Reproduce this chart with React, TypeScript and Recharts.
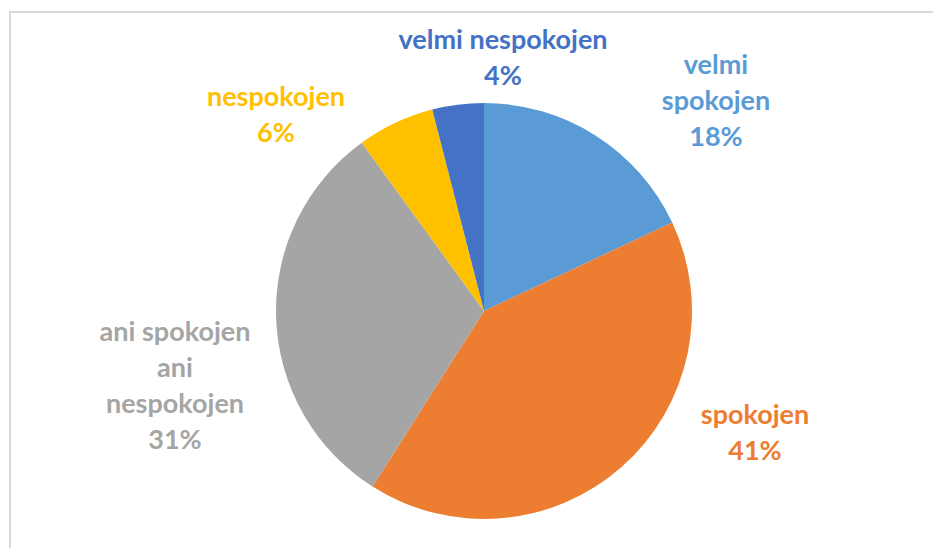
import { PieChart, Pie, Cell } from 'recharts';

// =============================================================================
// Data
// =============================================================================

const categories = ['velmi spokojen', 'spokojen', 'ani spokojen ani nespokojen', 'nespokojen', 'velmi nespokojen'];
const shares = [18, 41, 31, 6, 4];

// how each category name is wrapped in its data label
const labelLines = [
  ['velmi', 'spokojen'],
  ['spokojen'],
  ['ani spokojen', 'ani', 'nespokojen'],
  ['nespokojen'],
  ['velmi nespokojen'],
];

const COLORS = ['#5B9BD5', '#ED7D31', '#A5A5A5', '#FFC000', '#4472C4'];

// label block centres relative to the pie centre (Excel "best fit" placement)
const LABEL_OFFSETS: [number, number][] = [
  [232, -209],
  [271, 123],
  [-309, 76],
  [-208, -195],
  [19, -252],
];

const LINE_HEIGHT = 36;
const FONT = 'Lato, "Open Sans", sans-serif';

const chartData = categories.map((name, i) => ({ name, value: shares[i] }));

// =============================================================================
// Label
// =============================================================================

function renderLabel(props: any) {
  const { cx, cy, index, percent } = props;
  const lines = [...labelLines[index], `${Math.round(percent * 100)}%`];
  const [dx, dy] = LABEL_OFFSETS[index];
  const x = cx + dx;
  const top = cy + dy - ((lines.length - 1) * LINE_HEIGHT) / 2;
  return (
    <text
      x={x}
      y={top}
      fill={COLORS[index]}
      textAnchor="middle"
      fontFamily={FONT}
      fontWeight={700}
      fontSize={27}
    >
      {lines.map((line, i) => (
        <tspan key={i} x={x} y={top + i * LINE_HEIGHT + 8}>
          {line}
        </tspan>
      ))}
    </text>
  );
}

// =============================================================================
// Component
// =============================================================================

export default function App() {
  return (
    <div style={{ position: 'relative', width: 933, height: 540, overflow: 'hidden', background: '#fff' }}>
      <div
        style={{
          position: 'absolute',
          left: 1,
          top: 3,
          width: 1000,
          height: 1000,
          border: '2px solid #D9D9D9',
          boxSizing: 'border-box',
        }}
      />
      <div style={{ position: 'absolute', left: 0, top: 0 }}>
        <PieChart width={933} height={540}>
          <Pie
            data={chartData}
            dataKey="value"
            nameKey="name"
            cx={471}
            cy={298}
            outerRadius={208}
            startAngle={90}
            endAngle={-270}
            stroke="none"
            label={renderLabel}
            labelLine={false}
            isAnimationActive={false}
          >
            {chartData.map((_, i) => (
              <Cell key={i} fill={COLORS[i]} />
            ))}
          </Pie>
        </PieChart>
      </div>
    </div>
  );
}
